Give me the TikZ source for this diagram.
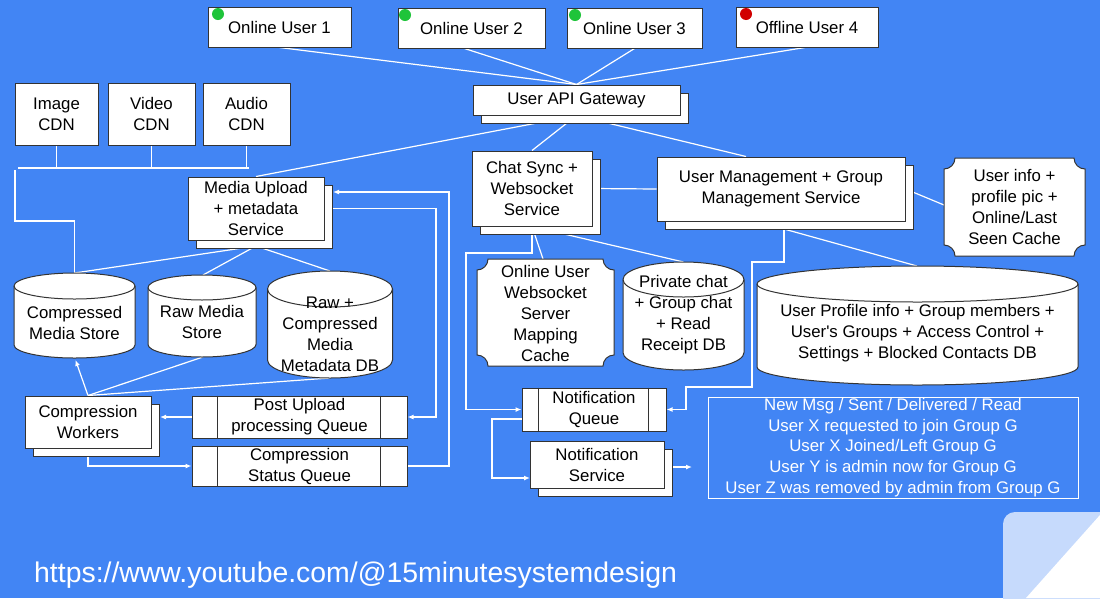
\documentclass[tikz,border=0pt]{standalone}
\usepackage{fontspec}
\setmainfont{Liberation Sans}
\usetikzlibrary{shadows,arrows.meta,backgrounds,calc}
\definecolor{bgblue}{HTML}{4285F4}
\definecolor{paleblue}{HTML}{C6DAFC}
\definecolor{edgegray}{HTML}{333333}
\definecolor{ongreen}{HTML}{1FC43A}
\definecolor{offred}{HTML}{D10000}
% cylinder: cx, top edge, bottom edge, rx, ry  (y measured downwards)
\newcommand{\cylshape}[5]{%
  \filldraw[shapeline] ({#1-#4},{-(#2+#5)}) -- ({#1-#4},{-(#3-#5)})
    arc[start angle=180,end angle=360,x radius=#4pt,y radius=#5pt]
    -- ({#1+#4},{-(#2+#5)})
    arc[start angle=0,end angle=180,x radius=#4pt,y radius=#5pt] -- cycle;
  \draw[shapeline,fill=none] ({#1-#4},{-(#2+#5)})
    arc[start angle=180,end angle=360,x radius=#4pt,y radius=#5pt];
}
% plaque with concave corners: left, top, right, bottom, r
\newcommand{\plaqueshape}[5]{%
  \filldraw[shapeline] ({#1+#5},{-#2}) -- ({#3-#5},{-#2})
    arc[start angle=180,end angle=270,radius=#5pt]
    -- ({#3},{-(#4-#5)})
    arc[start angle=90,end angle=180,radius=#5pt]
    -- ({#1+#5},{-#4})
    arc[start angle=0,end angle=90,radius=#5pt]
    -- ({#1},{-(#2+#5)})
    arc[start angle=270,end angle=360,radius=#5pt] -- cycle;
}
\tikzset{
  lbl/.style={font=\fontsize{16.8}{21}\selectfont, align=center, inner sep=0pt, text=black},
  box/.style={lbl, draw=edgegray, fill=white, line width=1pt},
  stackbox/.style={box, copy shadow={shadow xshift=8pt, shadow yshift=-8pt}},
  shapeline/.style={draw=edgegray, fill=white, line width=1pt},
  divider/.style={draw=edgegray, line width=1pt},
  wire/.style={draw=white, line width=1.2pt},
  arrowwire/.style={wire, -{Latex[length=6pt,width=5pt]}},
  dot/.style={circle, minimum size=12pt, inner sep=0pt},
}
\begin{document}
\begin{tikzpicture}[x=1pt,y=1pt]
\useasboundingbox (0,0) rectangle (1100,-598);

% ---------- users ----------
\node[box, minimum width=143pt, minimum height=40pt] (u1) at (279.5,-27) {Online User 1};
\node[box, minimum width=147pt, minimum height=40pt] (u2) at (471.5,-28) {Online User 2};
\node[box, minimum width=135pt, minimum height=40pt] (u3) at (634.5,-28) {Online User 3};
\node[box, minimum width=142pt, minimum height=40pt] (u4) at (807,-27) {Offline User 4};
\node[dot, fill=ongreen] (d1) at (218,-14) {};
\node[dot, fill=ongreen] (d2) at (405,-15) {};
\node[dot, fill=ongreen] (d3) at (575,-15) {};
\node[dot, fill=offred] (d4) at (746,-14) {};

\node[stackbox, minimum width=207pt, minimum height=30pt] (gw) at (576.5,-100) {User API Gateway};

% ---------- media side ----------
\node[box, minimum width=83pt, minimum height=62pt] (icdn) at (56.5,-114) {Image\\CDN};
\node[box, minimum width=87pt, minimum height=62pt] (vcdn) at (151.5,-114) {Video\\CDN};
\node[box, minimum width=87pt, minimum height=62pt] (acdn) at (246.5,-114) {Audio\\CDN};

\node[stackbox, minimum width=136pt, minimum height=63pt] (mu) at (256,-208.5) {Media Upload\\+ metadata\\Service};

\cylshape{74.5}{273}{358}{60.5}{13}
\node[lbl] (cms) at (74.5,-323) {Compressed\\Media Store};
\cylshape{202}{275}{357}{54}{12.5}
\node[lbl] (rms) at (202,-321.5) {Raw Media\\Store};
\cylshape{330}{271}{378}{62.5}{18}
\node[lbl] (meta) at (330,-334.5) {Raw +\\Compressed\\Media\\Metadata DB};

\node[stackbox, minimum width=126pt, minimum height=52pt] (cw) at (88,-422) {Compression\\Workers};
\node[box, minimum width=215pt, minimum height=42pt] (pq) at (299.5,-417) {Post Upload\\processing Queue};
\node[box, minimum width=215pt, minimum height=40pt] (sq) at (299.5,-466) {Compression\\Status Queue};
\draw[divider] ([xshift=26pt]pq.north west) -- ([xshift=26pt]pq.south west);
\draw[divider] ([xshift=-27pt]pq.north east) -- ([xshift=-27pt]pq.south east);
\draw[divider] ([xshift=26pt]sq.north west) -- ([xshift=26pt]sq.south west);
\draw[divider] ([xshift=-27pt]sq.north east) -- ([xshift=-27pt]sq.south east);

% ---------- chat / user side ----------
\node[stackbox, minimum width=120pt, minimum height=75pt] (cs) at (532,-188.5) {Chat Sync +\\Websocket\\Service};
\node[stackbox, minimum width=248pt, minimum height=64pt] (um) at (781,-189) {User Management + Group\\Management Service};

\plaqueshape{944}{158}{1085}{256}{11}
\node[lbl] (uic) at (1014.5,-207) {User info +\\profile pic +\\Online/Last\\Seen Cache};
\plaqueshape{477}{259}{614}{366}{11}
\node[lbl] (wsc) at (545.5,-313.5) {Online User\\Websocket\\Server\\Mapping\\Cache};

\cylshape{683.5}{262}{370}{60.5}{17.5}
\node[lbl] (pc) at (683.5,-314.5) {Private chat\\+ Group chat\\+ Read\\Receipt DB};
\cylshape{917.5}{266}{385}{160.5}{18}
\node[lbl] (upd) at (917.5,-333.5) {User Profile info + Group members +\\User\textquotesingle s Groups + Access Control +\\Settings + Blocked Contacts DB};

\node[box, minimum width=144pt, minimum height=43pt] (nq) at (594,-409.5) {Notification\\Queue};
\draw[divider] ([xshift=17pt]nq.north west) -- ([xshift=17pt]nq.south west);
\draw[divider] ([xshift=-18pt]nq.north east) -- ([xshift=-18pt]nq.south east);
\node[stackbox, minimum width=134pt, minimum height=47pt] (ns) at (597,-464.5) {Notification\\Service};

\node[lbl, text=white, draw=white, line width=1pt, minimum width=370pt, minimum height=101pt,
      font=\fontsize{16.8}{20.8}\selectfont] (ev) at (893,-447.5)
  {New Msg / Sent / Delivered / Read\\User X requested to join Group G\\User X Joined/Left Group G\\User Y is admin now for Group G\\User Z was removed by admin from Group G};

% ---------- footer ----------
\begin{scope}
  \clip (0,0) rectangle (1100,-598);
  \fill[paleblue, rounded corners=12pt] (1003,-512) rectangle (1130,-630);
  \fill[white] (1100,-515) -- (1026,-598) -- (1100,-598) -- cycle;
\end{scope}
\node[anchor=base west, text=white, inner sep=0pt, font=\fontsize{28.4}{34}\selectfont] (url) at (34,-582)
  {https://www.youtube.com/@15minutesystemdesign};

% ---------- coordinates ----------
\coordinate (busL) at (18,-168);
\coordinate (busR) at (249,-168);
\coordinate (cdnDrop) at (15,-170);
\coordinate (cdnBend) at (15,-221);
\coordinate (cmsT) at (74.5,-273);
\coordinate (cmsB) at (75.5,-360);
\coordinate (rmsT) at (203,-275);
\coordinate (rmsB) at (203,-357);
\coordinate (metaT) at (330,-271);
\coordinate (metaB) at (330,-378);
\coordinate (muBot) at (256,-246);
\coordinate (muR) at (333,0);
\coordinate (loopA) at (436,0);
\coordinate (loopB) at (449,-192);
\coordinate (cwR) at (160,0);
\coordinate (csBend) at (466,-253);
\coordinate (wscT) at (543,-259);
\coordinate (pcT) at (683.5,-262);
\coordinate (umS) at (784,-229);
\coordinate (umBend) at (752,-262);
\coordinate (umBend2) at (686,-387);
\coordinate (updT) at (917,-266);
\coordinate (uicL) at (944,-205);
\coordinate (nqL) at (522,-419);
\coordinate (nqBend) at (492,-419);
\coordinate (nsL) at (530,-478);
\coordinate (evA) at (692,-467);

% ---------- connectors (behind the boxes) ----------
\begin{scope}[on background layer]
  \fill[bgblue] (0,0) rectangle (1100,-598);
  \draw[wire] (u1.south) -- (gw.north);
  \draw[wire] ([xshift=-7pt]u2.south) -- (gw.north);
  \draw[wire] (u3.south) -- (gw.north);
  \draw[wire] ([xshift=-2pt]u4.south) -- (gw.north);
  \draw[wire] (gw.south) -- (mu.north);
  \draw[wire] (gw.south) -- (cs.north);
  \draw[wire] (gw.south) -- ([xshift=-35pt]um.north);

  \draw[wire] (icdn.south) -- (icdn.south |- busL);
  \draw[wire] (vcdn.south) -- (vcdn.south |- busL);
  \draw[wire] (acdn.south) -- (acdn.south |- busL);
  \draw[wire] (busL) -- (busR);
  \draw[wire] (cdnDrop) -- (cdnBend) -| (cmsT);

  \draw[wire] (muBot) -- (cmsT);
  \draw[wire] (muBot) -- (rmsT);
  \draw[wire] (muBot) -- (metaT);

  \draw[arrowwire] (cw.north) -- (cmsB);
  \draw[wire] (cw.north) -- (rmsB);
  \draw[wire] (cw.north) -- (metaB);
  \draw[arrowwire] (pq.west) -- (cwR |- pq.west);
  \draw[arrowwire] (cw.south) |- (sq.west);
  \draw[arrowwire] (mu.east) -| (loopA |- pq.east) -- (pq.east);
  \draw[arrowwire] (sq.east) -| (loopB) -- (muR |- loopB);

  \draw[wire] (cs.east) -- (um.west);
  \draw[wire] (um.east) -- (uicL);
  \draw[wire] (cs.south) -- (wscT);
  \draw[wire] (cs.south) -- (pcT);
  \draw[arrowwire] (cs.south) |- (csBend) |- (nq.west);
  \draw[arrowwire] (umS) |- (umBend) |- (umBend2) |- (nq.east);
  \draw[wire] (umS) -- (updT);
  \draw[arrowwire] (nqL) -- (nqBend) |- (nsL);
  \draw[arrowwire] ([yshift=-2.5pt]ns.east) -- (evA);
\end{scope}
\end{tikzpicture}
\end{document}
